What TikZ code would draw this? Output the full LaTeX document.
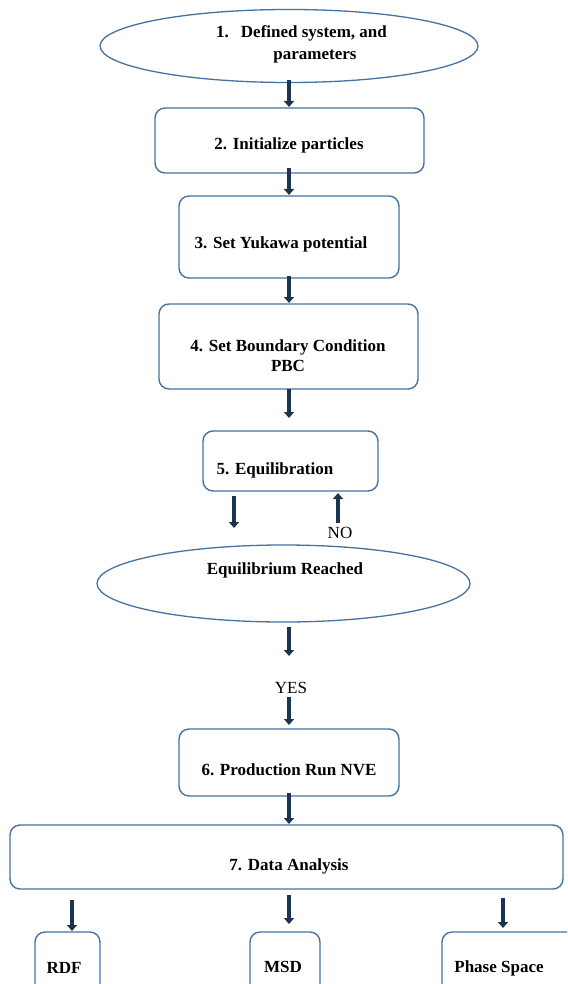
\documentclass[tikz,border=0pt]{standalone}
\usepackage{fontspec}
\setmainfont{Liberation Serif}
\usetikzlibrary{arrows.meta,shapes.geometric,calc}
\definecolor{edgeblue}{RGB}{70,114,160}
\definecolor{arrownavy}{RGB}{28,52,82}
\tikzset{
  box/.style={draw=edgeblue,line width=1.4pt,rounded corners=10pt,inner sep=0pt,fill=white},
  oval/.style={draw=edgeblue,line width=1.3pt,ellipse,inner sep=0pt,fill=white},
  lbl/.style={font=\fontsize{17}{20}\selectfont\bfseries,inner sep=0pt,align=center},
  plain/.style={font=\fontsize{17}{20}\selectfont,inner sep=0pt},
  flow/.style={draw=arrownavy,line width=4pt,-{Triangle[width=10pt,length=6pt]}}
}
\begin{document}
\begin{tikzpicture}[x=1pt,y=-1pt]
\useasboundingbox (0,0) rectangle (567,984);
\clip (0,0) rectangle (567,984);
\fill[white] (0,0) rectangle (567,984);
% shapes
\node[oval,minimum width=378pt,minimum height=73pt] (e1) at (289,46) {};
\node[box,minimum width=269pt,minimum height=65pt] (b2) at (289.5,140.5) {};
\node[box,minimum width=220pt,minimum height=82pt] (b3) at (289,237) {};
\node[box,minimum width=259pt,minimum height=85pt] (b4) at (288.5,346.5) {};
\node[box,minimum width=175pt,minimum height=60pt] (b5) at (290.5,461) {};
\node[oval,minimum width=373pt,minimum height=77pt] (e2) at (283.5,583.5) {};
\node[box,minimum width=220pt,minimum height=67pt] (b6) at (289,762.5) {};
\node[box,minimum width=553pt,minimum height=64pt] (b7) at (286.5,857) {};
\node[box,minimum width=65pt,minimum height=80pt] (r1) at (67.5,972) {};
\node[box,minimum width=70pt,minimum height=80pt] (r2) at (285,972) {};
\node[box,minimum width=140pt,minimum height=80pt] (r3) at (512,972) {};
% texts
\node[lbl,anchor=west] (t1a) at (216,33) {1.\hspace{12pt}Defined system, and};
\node[lbl] (t1b) at (315,57) {parameters};
\node[lbl] (t2) at (289,145) {2. Initialize particles};
\node[lbl] (t3) at (281,244) {3. Set Yukawa potential};
\node[lbl] (t4) at (288,356) {4. Set Boundary Condition\\PBC};
\node[lbl] (t5) at (275,470) {5. Equilibration};
\node[lbl] (te) at (285,570) {Equilibrium Reached};
\node[lbl] (t6) at (289,770) {6. Production Run NVE};
\node[lbl] (t7) at (289,866) {7. Data Analysis};
\node[lbl] (tr1) at (64,968) {RDF};
\node[lbl] (tr2) at (283,967) {MSD};
\node[lbl] (tr3) at (499,968) {Phase Space};
\node[plain] (no) at (340,533) {NO};
\node[plain] (yes) at (291,688) {YES};
% arrow anchor coordinates
\coordinate (a1s) at (289,80);   \coordinate (a1e) at (289,107);
\coordinate (a2s) at (289,168);  \coordinate (a2e) at (289,195);
\coordinate (a3s) at (289,276);  \coordinate (a3e) at (289,303);
\coordinate (a4s) at (289,389);  \coordinate (a4e) at (289,418);
\coordinate (a5s) at (234,496);  \coordinate (a5e) at (234,528);
\coordinate (a6s) at (338,523);  \coordinate (a6e) at (338,493);
\coordinate (a7s) at (289,627);  \coordinate (a7e) at (289,656);
\coordinate (a8s) at (289,697);  \coordinate (a8e) at (289,725);
\coordinate (a9s) at (289,793);  \coordinate (a9e) at (289,824);
\coordinate (c1s) at (72,900);   \coordinate (c1e) at (72,931);
\coordinate (c2s) at (289,895);  \coordinate (c2e) at (289,924);
\coordinate (c3s) at (503,898);  \coordinate (c3e) at (503,928);
\foreach \s/\e in {a1s/a1e,a2s/a2e,a3s/a3e,a4s/a4e,a5s/a5e,a6s/a6e,a7s/a7e,a8s/a8e,a9s/a9e,c1s/c1e,c2s/c2e,c3s/c3e}
  \draw[flow] (\s) -- (\e);
\end{tikzpicture}
\end{document}
